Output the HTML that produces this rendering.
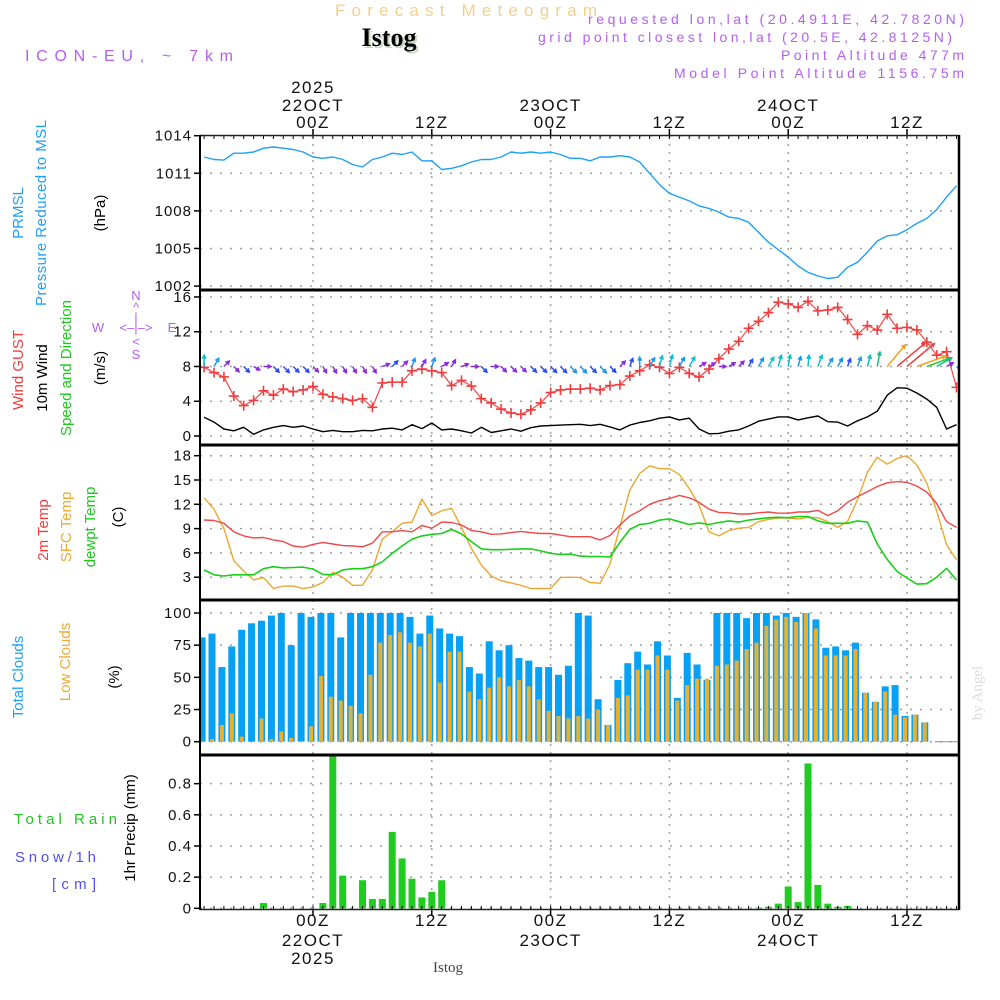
<!DOCTYPE html>
<html><head><meta charset="utf-8"><title>Istog meteogram</title>
<style>
html,body{margin:0;padding:0;background:#fff;}
svg{display:block;font-family:"Liberation Sans",sans-serif;}
</style></head>
<body>
<svg id="chart" width="1000" height="1000" viewBox="0 0 1000 1000" xmlns="http://www.w3.org/2000/svg">
  <!-- header -->
  <text x="466" y="16" text-anchor="middle" font-size="17" fill="#f3cf8c" textLength="262" lengthAdjust="spacing">Forecast Meteogram</text>
  <text x="391" y="48" text-anchor="middle" font-family="Liberation Serif,serif" font-weight="bold" font-size="26" fill="#c8d8c0">Istog</text>
  <text x="389" y="46" text-anchor="middle" font-family="Liberation Serif,serif" font-weight="bold" font-size="26" fill="#000">Istog</text>
  <text x="25" y="61" font-size="16" fill="#b45ef0" textLength="208" lengthAdjust="spacing">ICON-EU, ~ 7km</text>
  <text x="964" y="24" text-anchor="end" font-size="14" fill="#b45ef0" textLength="376" lengthAdjust="spacing">requested lon,lat (20.4911E, 42.7820N)</text>
  <text x="952" y="42" text-anchor="end" font-size="14" fill="#b45ef0" textLength="414" lengthAdjust="spacing">grid point closest lon,lat (20.5E, 42.8125N)</text>
  <text x="964" y="60" text-anchor="end" font-size="14" fill="#b45ef0" textLength="183" lengthAdjust="spacing">Point Altitude 477m</text>
  <text x="964" y="78" text-anchor="end" font-size="14" fill="#b45ef0" textLength="290" lengthAdjust="spacing">Model Point Altitude 1156.75m</text>

  <!-- left panel labels -->
  <g font-size="15" text-anchor="middle">
    <text transform="translate(23,213) rotate(-90)" fill="#1e9ff5">PRMSL</text>
    <text transform="translate(46,213) rotate(-90)" fill="#1e9ff5" textLength="186" lengthAdjust="spacing">Pressure Reduced to MSL</text>
    <text transform="translate(105,213) rotate(-90)" fill="#000">(hPa)</text>
    <text transform="translate(23,370) rotate(-90)" fill="#f03c3c">Wind GUST</text>
    <text transform="translate(47,378) rotate(-90)" fill="#000">10m Wind</text>
    <text transform="translate(71,368) rotate(-90)" fill="#1ec81e">Speed and Direction</text>
    <text transform="translate(105,368) rotate(-90)" fill="#000">(m/s)</text>
    <text transform="translate(48,530) rotate(-90)" fill="#f03c3c">2m Temp</text>
    <text transform="translate(71,527) rotate(-90)" fill="#f0a830">SFC Temp</text>
    <text transform="translate(95,527) rotate(-90)" fill="#1ec81e">dewpt Temp</text>
    <text transform="translate(123,517) rotate(-90)" fill="#000">(C)</text>
    <text transform="translate(23,677) rotate(-90)" fill="#1e9ff5">Total Clouds</text>
    <text transform="translate(70,662) rotate(-90)" fill="#f0a830">Low Clouds</text>
    <text transform="translate(119,677) rotate(-90)" fill="#000">(%)</text>
    <text transform="translate(135,828) rotate(-90)" fill="#000">1hr Precip (mm)</text>
  </g>
  <text x="14" y="824" font-size="15" fill="#1ec81e" textLength="103" lengthAdjust="spacing">Total   Rain</text>
  <text x="15" y="862" font-size="15" fill="#5050f0" textLength="81" lengthAdjust="spacing">Snow/1h</text>
  <text x="52" y="889" font-size="15" fill="#5050f0" textLength="44" lengthAdjust="spacing">[cm]</text>
  <!-- compass -->
  <g fill="#b45ef0" font-size="13" text-anchor="middle">
    <text x="136" y="300">N</text>
    <text x="136" y="312">^</text>
    <text x="136" y="322">|</text>
    <text x="98" y="332">W</text>
    <text x="136" y="332">&lt;–|–&gt;</text>
    <text x="172" y="332">E</text>
    <text x="136" y="346">&lt;</text>
    <text x="136" y="359">S</text>
  </g>
  <text transform="translate(982,693) rotate(-90)" font-family="Liberation Serif,serif" font-size="15" fill="#dcdcdc" text-anchor="middle">by Angel</text>
  <text x="448" y="972" text-anchor="middle" font-family="Liberation Serif,serif" font-size="15" fill="#444">Istog</text>

  <g id="grid"></g>
  <g id="marks"></g>
  <g id="frame"></g>
</svg>
<script>
// ---- data (hourly, hour offsets relative to 22OCT 00Z) ----
const startHour = -11;
const pressure = [1012.3,1012.1,1012.05,1012.6,1012.6,1012.7,1013.0,1013.1,1013.0,1012.9,1012.7,
 1012.3,1012.2,1012.3,1012.1,1011.7,1011.5,1012.1,1012.3,1012.6,1012.5,1012.7,
 1012.0,1012.0,1011.3,1011.4,1011.6,1011.9,1012.1,1012.1,1012.3,1012.7,
 1012.6,1012.7,1012.6,1012.7,1012.5,1012.2,1012.2,1012.0,1012.3,1012.3,
 1012.4,1012.3,1011.9,1011.0,1010.1,1009.4,1009.1,1008.8,1008.4,1008.2,
 1007.9,1007.5,1007.4,1007.1,1006.3,1005.5,1004.9,1004.3,1003.6,1003.1,
 1002.8,1002.6,1002.7,1003.5,1003.9,1004.7,1005.6,1006.0,1006.1,1006.5,
 1007.0,1007.4,1008.1,1009.1,1010.0];
const gust = [7.9,7.3,6.8,4.6,3.5,4.1,5.2,4.7,5.4,5.1,5.3,
 5.7,4.8,4.5,4.3,4.1,4.3,3.3,6.1,6.2,6.2,7.5,
 7.7,7.5,7.3,5.8,6.4,5.75,4.3,3.8,3.1,2.65,
 2.5,3.0,3.8,5.0,5.3,5.4,5.4,5.5,5.3,5.8,
 5.9,6.9,7.5,8.2,7.9,7.2,7.9,7.2,6.8,7.7,
 8.9,10.0,10.9,12.4,13.2,14.2,15.4,15.2,14.8,15.5,
 14.4,14.5,14.8,13.4,11.7,12.7,12.2,14.0,12.4,12.5,
 12.2,10.8,9.3,9.7,5.6];
const windSpeed = [2.15,1.6,0.8,0.6,1.0,0.2,0.7,1.0,1.2,1.0,1.15,
 0.8,0.5,0.65,0.5,0.5,0.65,0.6,0.8,0.9,0.7,1.3,
 0.85,1.5,0.7,0.8,0.6,0.35,1.0,0.4,0.6,0.8,
 0.55,0.95,1.15,1.2,1.25,1.3,1.35,1.2,1.35,1.05,
 0.7,1.25,1.55,1.75,2.05,2.2,1.85,2.05,0.8,0.25,
 0.3,0.55,0.7,1.15,1.7,1.95,2.2,2.2,1.85,2.1,
 2.3,1.65,1.6,1.15,1.75,2.2,2.85,4.7,5.55,5.5,
 4.95,4.25,3.3,0.8,1.3];
const windDir = [0,30,45,135,135,120,90,135,135,135,135,
 135,150,150,150,150,150,150,70,45,45,20,
 30,20,60,30,70,90,135,90,135,135,
 135,135,135,135,135,135,135,135,135,135,
 45,20,0,30,15,15,30,30,60,60,
 90,60,45,30,30,30,15,10,15,5,
 20,30,30,20,20,15,10,40,50,50,
 70,70,60,60,135];
const temp2m = [10.06,10.0,9.65,8.6,8.1,7.85,7.9,7.6,7.4,6.85,6.7,
 7.05,7.3,7.1,6.9,6.85,6.75,7.2,8.6,8.6,8.75,8.6,
 9.4,9.05,9.8,9.75,9.45,8.75,8.6,8.3,8.35,8.5,
 8.65,8.5,8.4,8.4,8.2,8.0,8.0,8.0,7.6,8.15,
 9.45,10.55,11.2,12.0,12.45,12.7,13.1,12.8,12.25,11.4,
 11.0,10.95,10.8,10.8,10.95,11.05,10.9,10.9,11.05,11.05,
 11.25,10.6,11.2,12.25,12.95,13.55,14.2,14.65,14.8,14.7,
 14.25,13.5,12.1,9.85,9.15];
const sfcTemp = [12.8,11.4,9.0,5.05,3.75,2.65,2.95,1.6,1.9,1.9,1.6,
 1.8,2.35,3.6,3.0,2.0,2.0,3.9,7.7,8.6,9.65,9.8,
 12.65,10.6,11.2,11.5,9.15,6.55,4.5,3.15,2.55,2.3,
 2.0,1.6,1.6,1.6,2.95,3.0,2.95,2.35,2.25,4.6,
 9.25,13.75,15.8,16.75,16.4,16.4,15.7,13.95,11.9,8.6,
 8.1,8.75,9.05,9.15,9.85,10.15,10.3,10.3,10.2,10.4,
 10.35,9.85,9.15,9.9,12.55,15.95,17.8,16.95,17.65,18.0,
 16.85,14.6,11.2,7.0,5.15];
const dewpt = [3.9,3.3,3.15,3.3,3.3,3.3,4.05,4.3,4.15,4.2,4.25,
 4.0,3.35,3.3,3.9,4.05,4.05,4.3,4.9,5.95,6.85,7.7,
 8.1,8.3,8.4,8.9,8.35,7.4,6.5,6.4,6.4,6.45,
 6.5,6.5,6.25,5.95,5.8,5.85,5.6,5.55,5.55,5.5,
 7.3,8.9,9.5,9.65,10.05,10.2,9.85,9.5,9.7,9.5,
 9.75,9.95,9.8,10.05,10.2,10.35,10.4,10.35,10.5,10.5,
 9.95,9.65,9.65,9.65,9.95,9.8,7.1,5.2,3.7,2.9,
 2.15,2.2,3.0,4.1,2.65];
const totalClouds = [81,84,58,74,87,92,94,98,100,75,100,
 97,100,100,81,100,100,100,100,100,100,97,
 84,98,88,84,82,58,53,78,71,75,
 65,63,58,58,52,59,100,98,33,13,
 48,61,70,60,78,67,34,69,60,48,
 100,100,100,96,100,100,98,100,97,100,
 95,73,74,71,77,38,31,43,44,20,
 21,15,0,0,0];
const lowClouds = [0,2,13,22,4,0,18,2,8,3,0.5,
 12,51,35,32,28,22,52,77,83,85,77,
 74,84,46,70,70,39,33,42,50,43,
 48,43,33,24,20,18,20,18,25,13,
 34,36,56,56,67,56,32,44,49,49,
 59,60,63,72,77,90,95,97,93,100,
 88,67,67,67,72,38,31,39,21,19,
 21,15,0,0,0];
const precip = [0,0,0,0,0,0,0.034,0,0,0,0,
 0,0.034,0.98,0.21,0,0.18,0.06,0.06,0.49,0.32,0.19,
 0.07,0.105,0.18,0,0,0,0,0,0,0,
 0,0,0,0,0,0,0,0,0,0,
 0,0,0,0,0,0,0,0,0,0,
 0,0,0,0,0.004,0.01,0.03,0.14,0.04,0.93,
 0.15,0.03,0.01,0.015,0,0,0,0,0,0,
 0,0,0,0,0];
const pressureTicks = [1002,1005,1008,1011,1014];
const windTicks = [0,4,8,12,16];
const tempTicks = [3,6,9,12,15,18];
const cloudTicks = [0,25,50,75,100];
const precipTicks = [0,0.2,0.4,0.6,0.8];
const precipTickLabels = ["0","0.2","0.4","0.6","0.8"];
const timeTicks = [0,12,24,36,48,60];
const timeLabels = ["00Z","12Z","00Z","12Z","00Z","12Z"];
const dayLabels = ["22OCT","","23OCT","","24OCT",""];

// ---- scales ----
const X0 = 200, X1 = 959;
const xT = t => 313 + 9.9 * t;
const yP = v => 135.7 + (1014 - v) * 12.53;
const yW = v => 436 - v * 8.69;
const yT = v => 455.7 + (18 - v) * 8.1;
const yC = v => 741.7 - v * 1.287;
const yR = v => 908.3 - v * 155.8;

const NS = "http://www.w3.org/2000/svg";
function mk(tag, attrs, parent) {
  const e = document.createElementNS(NS, tag);
  for (const k in attrs) e.setAttribute(k, attrs[k]);
  parent.appendChild(e);
  return e;
}
const grid = document.getElementById('grid');
const marks = document.getElementById('marks');
const frame = document.getElementById('frame');

// clip
const defs = mk('defs', {}, document.getElementById('chart'));
const cp = mk('clipPath', {id: 'plotclip'}, defs);
mk('rect', {x: X0, y: 135, width: X1 - X0, height: 775}, cp);
marks.setAttribute('clip-path', 'url(#plotclip)');

// vertical gridlines + time labels
timeTicks.forEach((t, i) => {
  const x = xT(t);
  const g = mk('line', {x1: x, x2: x, y1: 136, y2: 909, stroke: '#a0a0a0', 'stroke-width': 1.5, 'stroke-dasharray': '2,6'}, grid);
  
  
  [122, 920].forEach(y => {
    const tl = mk('text', {x: x, y: y + 6, 'text-anchor': 'middle', 'font-size': 17, 'letter-spacing': 1.5, fill: '#111'}, frame);
    tl.textContent = timeLabels[i];
    
    
  });
  if (dayLabels[i]) {
    [105, 940].forEach(y => {
      const dl = mk('text', {x: x, y: y + 6, 'text-anchor': 'middle', 'font-size': 17, 'letter-spacing': 1.5, fill: '#111'}, frame);
      dl.textContent = dayLabels[i];
      
      
    });
  }
  mk('line', {x1: x, x2: x, y1: 135, y2: 129, stroke: '#000', 'stroke-width': 1.5}, frame);
  mk('line', {x1: x, x2: x, y1: 910, y2: 916, stroke: '#000', 'stroke-width': 1.5}, frame);
});
[[87, xT(0)], [958, xT(0)]].forEach(p => {
  const yl = mk('text', {x: p[1], y: p[0] + 6, 'text-anchor': 'middle', 'font-size': 17, 'letter-spacing': 1.5, fill: '#111'}, frame);
  yl.textContent = '2025';
  
  
});
// hourly minor ticks on top and bottom
for (let t = startHour; t <= 65; t++) {
  const x = xT(t);
  mk('line', {x1: x, x2: x, y1: 135, y2: 139, stroke: '#000', 'stroke-width': 1}, frame);
  mk('line', {x1: x, x2: x, y1: 910, y2: 906, stroke: '#000', 'stroke-width': 1}, frame);
}

// horizontal gridlines and y tick labels
function yAxis(ticks, labels, scale, name) {
  ticks.forEach((v, i) => {
    const y = scale(v);
    const gl = mk('line', {x1: X0, x2: X1, y1: y, y2: y, stroke: '#a0a0a0', 'stroke-width': 1.5, 'stroke-dasharray': '2,8'}, grid);
    
    
    mk('line', {x1: X0 - 6, x2: X0, y1: y, y2: y, stroke: '#000', 'stroke-width': 1.5}, frame);
    const tl = mk('text', {x: X0 - 8, y: y + 5, 'text-anchor': 'end', 'font-size': 15, 'letter-spacing': 1, fill: '#111'}, frame);
    tl.textContent = labels[i];
    
    
  });
}
yAxis(pressureTicks, pressureTicks.map(String), yP, 'pressure');
yAxis(windTicks, windTicks.map(String), yW, 'wind');
yAxis(tempTicks, tempTicks.map(String), yT, 'temp');
yAxis(cloudTicks, cloudTicks.map(String), yC, 'cloud');
yAxis(precipTicks, precipTickLabels, yR, 'precip');

// line helper
function line(arr, scale, color, name, w) {
  const pts = arr.map((v, i) => xT(startHour + i).toFixed(1) + ',' + scale(v).toFixed(1)).join(' ');
  const p = mk('polyline', {points: pts, fill: 'none', stroke: color, 'stroke-width': w || 1.4, 'stroke-linejoin': 'round'}, marks);
  
  
}

// cloud bars
totalClouds.forEach((v, i) => {
  const x = xT(startHour + i) - 2;
  if (v > 0) {
    const r = mk('rect', {x: x - 3.5, y: yC(v), width: 7, height: yC(0) - yC(v), fill: '#06a0f5'}, marks);
    
    
  }
  const lv = lowClouds[i];
  if (lv > 0) {
    const r2 = mk('rect', {x: x - 2, y: yC(lv), width: 4, height: yC(0) - yC(lv), fill: '#e8b030'}, marks);
    
    
  }
});
mk('line', {x1: 935, x2: 958, y1: yC(0), y2: yC(0), stroke: '#909090', 'stroke-width': 1}, marks);

// precip bars
precip.forEach((v, i) => {
  if (v <= 0) return;
  const x = xT(startHour + i);
  const r = mk('rect', {x: x - 3.5, y: yR(v), width: 7, height: yR(0) - yR(v), fill: '#20cc20'}, marks);
  
  
});

// lines
line(pressure, yP, '#1ea0f5', 'pressure-line', 1.4);
line(windSpeed, yW, '#000', 'wind-speed-line', 1.4);
line(sfcTemp, yT, '#eaa830', 'sfc-temp-line', 1.4);
line(temp2m, yT, '#f04848', 'temp2m-line', 1.4);
line(dewpt, yT, '#18d018', 'dewpt-line', 1.6);
line(gust, yW, '#f04848', 'gust-line', 1.2);

// gust crosses
gust.forEach((v, i) => {
  const x = xT(startHour + i), y = yW(v);
  const c = mk('path', {d: `M${x-5},${y}H${x+5}M${x},${y-5}V${y+5}`, stroke: '#f03c3c', 'stroke-width': 1.6, fill: 'none'}, marks);
  
  
});

// wind arrows
function windColor(s) {
  if (s < 0.9) return '#8a2be2';
  if (s < 1.3) return '#2a4cf5';
  if (s < 1.9) return '#1a98f0';
  if (s < 2.5) return '#12c0c8';
  if (s < 3.5) return '#10c080';
  if (s < 4.5) return '#30c830';
  if (s < 5.2) return '#f0a020';
  return '#f04040';
}
windDir.forEach((d, i) => {
  const s = windSpeed[i];
  const x = xT(startHour + i), y = yW(8);
  const L = 7 + s * s * 0.95;
  const a = d * Math.PI / 180;
  const ex = x + L * Math.sin(a), ey = y - L * Math.cos(a);
  const h = 4, b1 = a + Math.PI - 0.5, b2 = a + Math.PI + 0.5;
  const col = windColor(s);
  const dpath = `M${x.toFixed(1)},${y.toFixed(1)}L${ex.toFixed(1)},${ey.toFixed(1)}` +
    `M${(ex + h*Math.sin(b1)).toFixed(1)},${(ey - h*Math.cos(b1)).toFixed(1)}L${ex.toFixed(1)},${ey.toFixed(1)}L${(ex + h*Math.sin(b2)).toFixed(1)},${(ey - h*Math.cos(b2)).toFixed(1)}`;
  const p = mk('path', {d: dpath, stroke: col, 'stroke-width': 1.5, fill: 'none'}, marks);
  
  
});

// frame
mk('line', {x1: X0, x2: X1, y1: 135.5, y2: 135.5, stroke: '#222', 'stroke-width': 1.5}, frame);
mk('line', {x1: X0, x2: X1, y1: 909.5, y2: 909.5, stroke: '#222', 'stroke-width': 1.5}, frame);
mk('line', {x1: X0, x2: X0, y1: 135, y2: 910, stroke: '#000', 'stroke-width': 2}, frame);
mk('line', {x1: X1, x2: X1, y1: 135, y2: 910, stroke: '#000', 'stroke-width': 2.5}, frame);
[290, 445, 600, 755].forEach(y => {
  const sep = mk('line', {x1: X0, x2: X1, y1: y, y2: y, stroke: '#000', 'stroke-width': 3}, frame);
  
  
});
</script>
</body></html>
